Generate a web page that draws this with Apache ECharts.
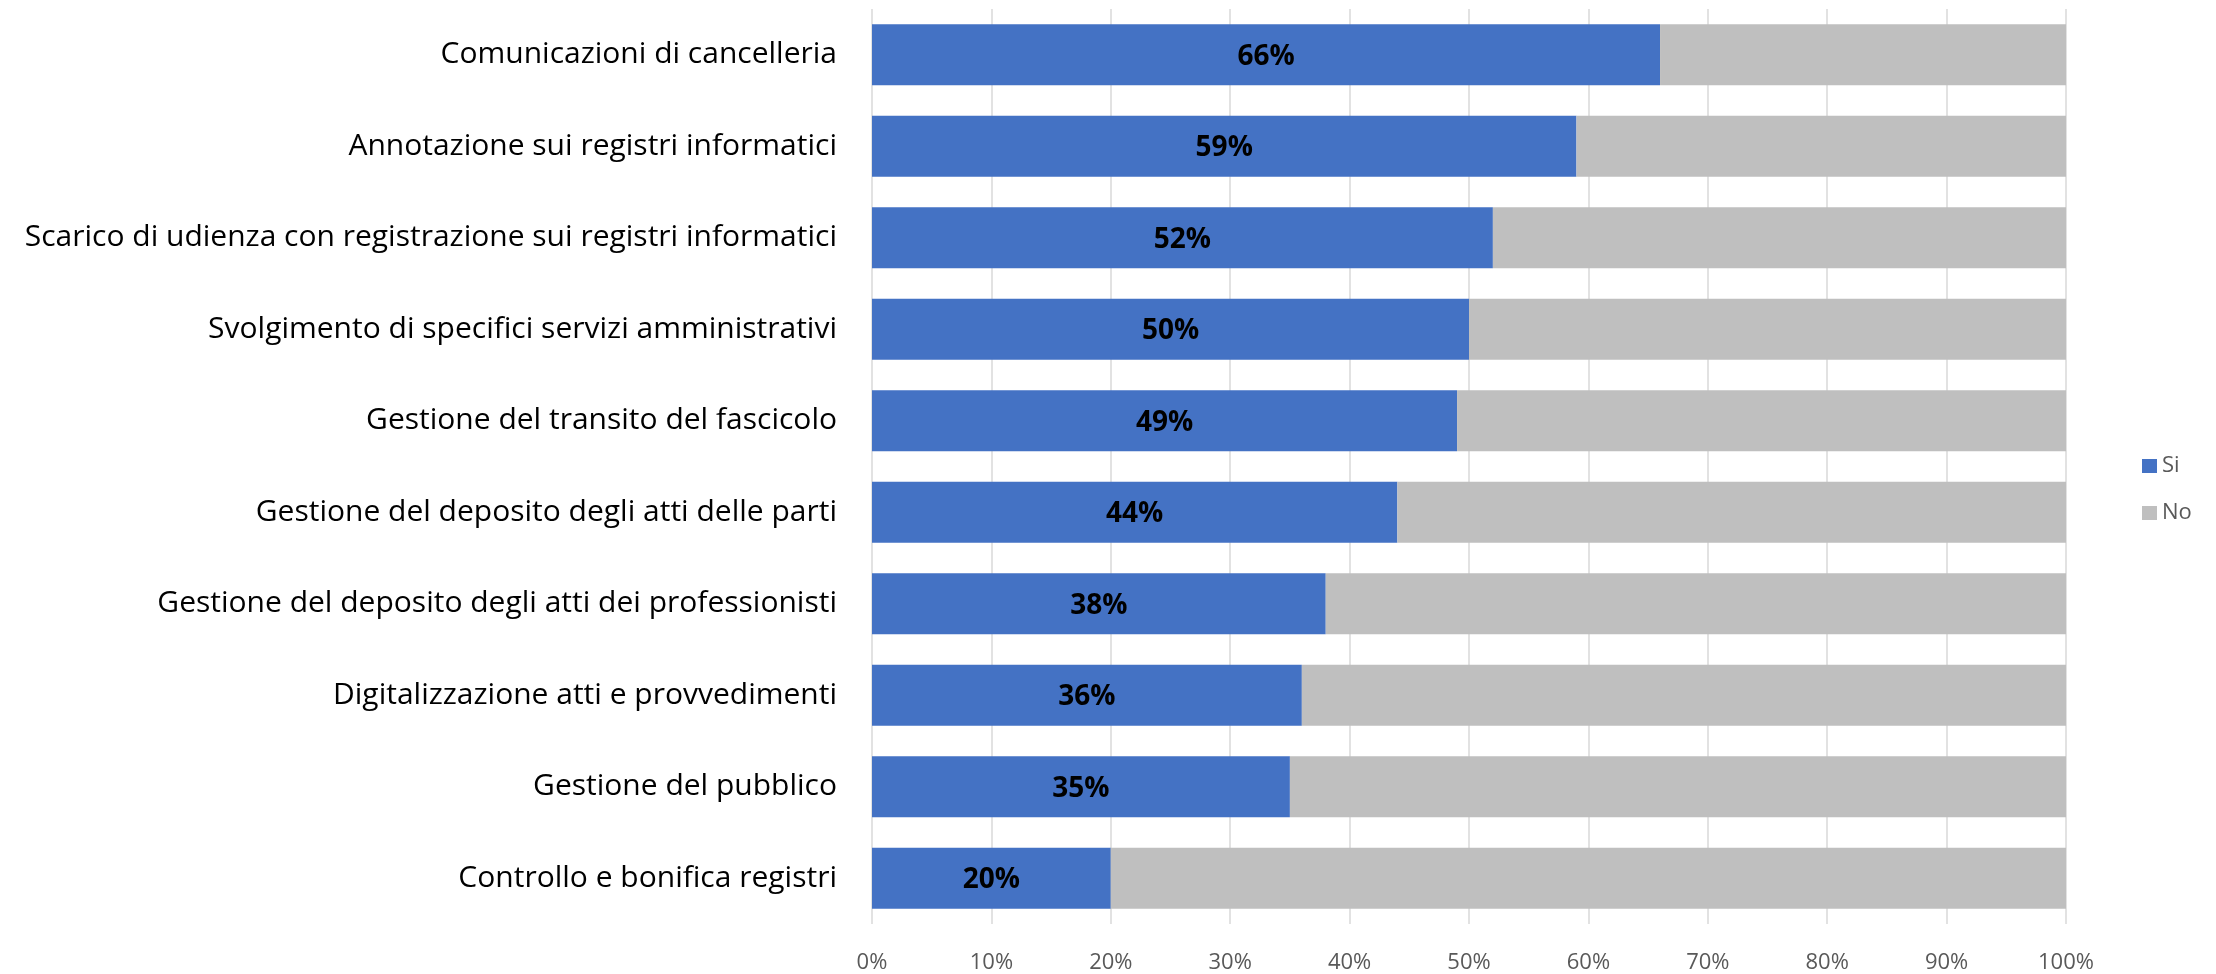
<!DOCTYPE html>
<html>
<head>
<meta charset="utf-8">
<script src="https://cdn.jsdelivr.net/npm/echarts@6/dist/echarts.min.js"></script>
<style>html,body{margin:0;padding:0;background:#fff;}#c{width:2216px;height:974px;}</style>
</head>
<body>
<div id="c"></div>
<script>
const categories = [
  "Comunicazioni di cancelleria",
  "Annotazione sui registri informatici",
  "Scarico di udienza con registrazione sui registri informatici",
  "Svolgimento di specifici servizi amministrativi",
  "Gestione del transito del fascicolo",
  "Gestione del deposito degli atti delle parti",
  "Gestione del deposito degli atti dei professionisti",
  "Digitalizzazione atti e provvedimenti",
  "Gestione del pubblico",
  "Controllo e bonifica registri"
];
const siValues = [66, 59, 52, 50, 49, 44, 38, 36, 35, 20];
const noValues = [34, 41, 48, 50, 51, 56, 62, 64, 65, 80];
const seriesNames = ["Si", "No"];

const FONT = "Open Sans";
const chart = echarts.init(document.getElementById('c'));
chart.setOption({
  animation: false,
  textStyle: { fontFamily: FONT },
  grid: { left: 872, right: 150, top: 9, bottom: 47, containLabel: false },
  legend: {
    orient: 'vertical', left: 2137, top: 450,
    itemWidth: 15, itemHeight: 14, itemGap: 25,
    icon: 'rect',
    textStyle: { fontFamily: FONT, fontSize: 22, color: '#595959' },
    data: seriesNames
  },
  xAxis: {
    type: 'value', min: 0, max: 1, interval: 0.1,
    axisLine: { show: false }, axisTick: { show: false },
    splitLine: { show: true, lineStyle: { color: '#D9D9D9', width: 1.5 } },
    axisLabel: { color: '#595959', fontSize: 22, margin: 28, fontFamily: FONT,
      formatter: v => Math.round(v * 100) + '%' }
  },
  yAxis: {
    type: 'category', inverse: true, data: categories,
    axisLine: { show: false }, axisTick: { show: false },
    axisLabel: { color: '#000', fontSize: 30, margin: 35, fontFamily: FONT, padding: [4, 0, 0, 0] }
  },
  series: [
    { name: seriesNames[0], type: 'bar', stack: 't', barWidth: 61,
      data: siValues.map(v => v / 100),
      itemStyle: { color: '#4472C4' },
      label: { show: true, position: 'inside', offset: [0, 2], color: '#000', fontWeight: 'bold', fontSize: 28, fontFamily: FONT,
        formatter: p => Math.round(p.value * 100) + '%' } },
    { name: seriesNames[1], type: 'bar', stack: 't', barWidth: 61,
      data: noValues.map(v => v / 100),
      itemStyle: { color: '#BFBFBF' } }
  ]
});
</script>
</body>
</html>
